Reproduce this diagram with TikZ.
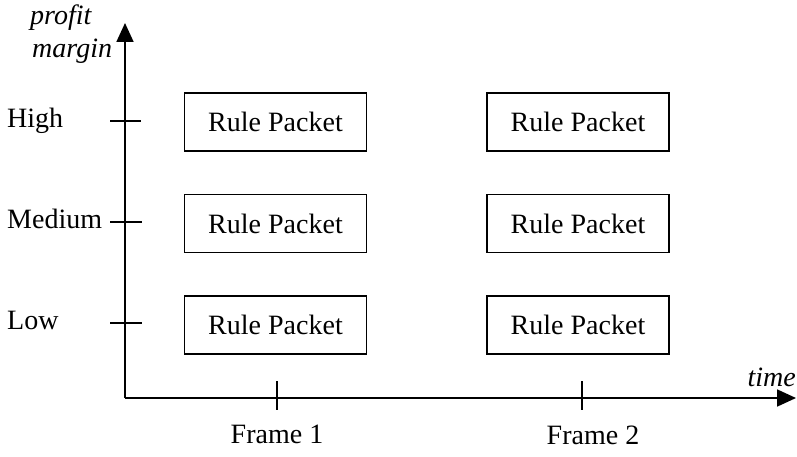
\documentclass[tikz,border=0pt]{standalone}
\usepackage{fontspec}
\setmainfont{Liberation Serif}
\usetikzlibrary{arrows.meta}
\begin{document}
\begin{tikzpicture}[x=1pt,y=-1pt,
  every node/.style={font=\fontsize{28}{32}\selectfont, inner sep=0pt},
  packet/.style={draw, line width=1.8pt, minimum width=182pt, minimum height=58pt},
  axis/.style={line width=1.8pt, -{Triangle[length=19pt,width=17pt]}},
  tick/.style={line width=1.6pt},
  lab/.style={anchor=base west},
  axlab/.style={font=\fontsize{28}{32}\selectfont\itshape}]
\useasboundingbox (0,0) rectangle (797,457);
\coordinate (o) at (125,398);
\coordinate (ytip) at (125,23);
\coordinate (xtip) at (796,398);
\draw[axis] (o) -- (ytip);
\draw[axis] (o) -- (xtip);
% y ticks
\coordinate (h1) at (110,121); \coordinate (h2) at (141,121);
\coordinate (m1) at (110,222); \coordinate (m2) at (142,222);
\coordinate (l1) at (110,323); \coordinate (l2) at (142,323);
\draw[tick] (h1) -- (h2);
\draw[tick] (m1) -- (m2);
\draw[tick] (l1) -- (l2);
% x ticks
\coordinate (f1a) at (277,381); \coordinate (f1b) at (277,410);
\coordinate (f2a) at (582,381); \coordinate (f2b) at (582,410);
\draw[tick] (f1a) -- (f1b);
\draw[tick] (f2a) -- (f2b);
% labels
\node[lab, axlab] (profit) at (30,25) {profit};
\node[lab, axlab] (margin) at (32,58) {margin};
\node[anchor=base east, axlab] (time) at (796,386) {time};
\node[lab] (high) at (7,128) {High};
\node[lab] (medium) at (7,228) {Medium};
\node[lab] (low) at (7,329) {Low};
\node[anchor=base] (fr1) at (277,443) {Frame 1};
\node[anchor=base] (fr2) at (593,444) {Frame 2};
% packets
\node[packet] (p11) at (275.5,122) {Rule Packet};
\node[packet] (p12) at (275.5,223.5) {Rule Packet};
\node[packet] (p13) at (275.5,325) {Rule Packet};
\node[packet] (p21) at (578,122) {Rule Packet};
\node[packet] (p22) at (578,223.5) {Rule Packet};
\node[packet] (p23) at (578,325) {Rule Packet};
\end{tikzpicture}
\end{document}
